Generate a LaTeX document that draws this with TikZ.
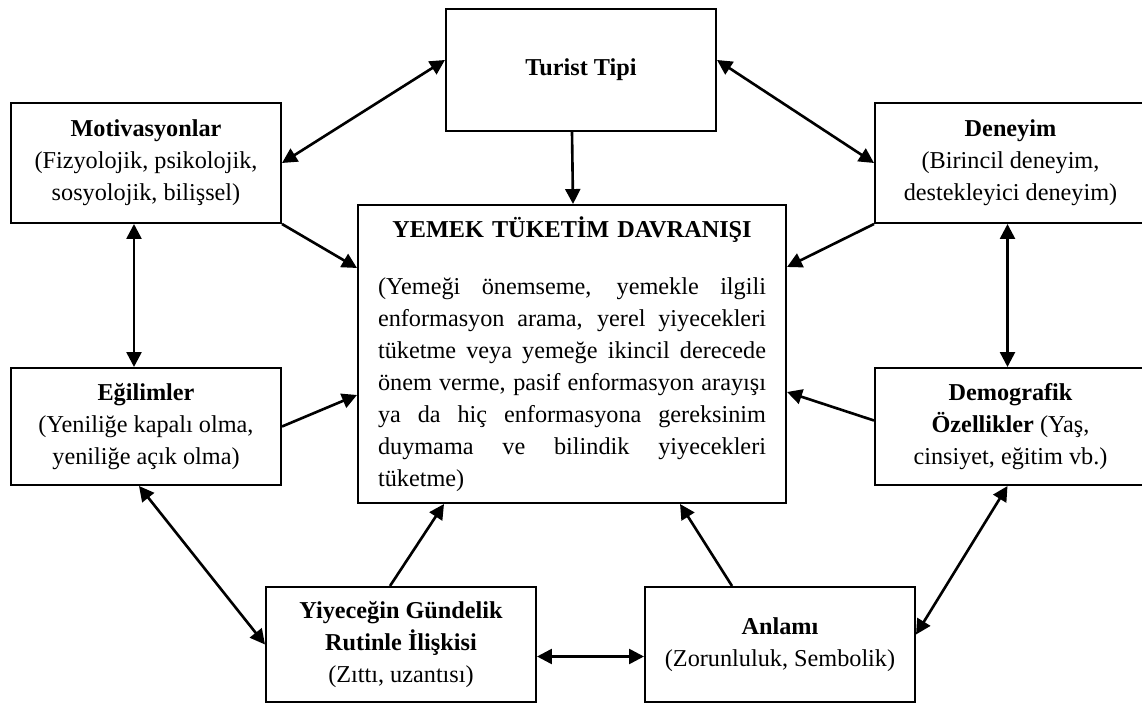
\documentclass[tikz,border=0pt]{standalone}
\usepackage{fontspec}
\setmainfont{Liberation Serif}
\usetikzlibrary{arrows.meta,positioning}
\newlength\px
\setlength\px{0.495pt}
\newlength\mainWidth
\setlength\mainWidth{388\px}
\tikzset{
  box-style/.style = {
    rectangle, draw, line width=1pt,
    align=center, inner sep=2pt,
    minimum width={270*\px},
    font=\fontsize{12}{15.84}\selectfont
  },
  main-style/.style = {
    align=left, text width=\mainWidth
  },
  every edge/.style = {draw, ->, line width=1.3pt},
  >={Triangle[length=7.4pt,width=7.4pt]}
}
\newcommand\fullLine[1]{\leavevmode\hbox to \mainWidth{\spaceskip=0.25em plus 1fil minus 0.05em\relax #1}}

\begin{document}
\begin{tikzpicture}[x=0.495pt, y=-0.495pt]
  \clip (0,0) rectangle (1142,704);

  % the boxes
  \node[box-style, minimum height={122*\px}] (turist) at (581,70)
    {\textbf{Turist Tipi}};
  \node[box-style, minimum height={120*\px}] (motiv) at (146,163)
    {\textbf{Motivasyonlar}\\(Fizyolojik, psikolojik,\\sosyolojik, bilişsel)};
  \node[box-style, minimum width={271*\px}, minimum height={120*\px}] (deneyim) at (1010.5,163)
    {\textbf{Deneyim}\\(Birincil deneyim,\\destekleyici deneyim)};
  \node[box-style, main-style, anchor=north west, minimum width={428*\px}, minimum height={298*\px}] (yemek) at (357,204)
    {\makebox[\mainWidth]{\textbf{YEMEK TÜKETİM DAVRANIŞI}}\\[12.4pt]
     \fullLine{(Yemeği önemseme, yemekle ilgili}\\
     \fullLine{enformasyon arama, yerel yiyecekleri}\\
     \fullLine{tüketme veya yemeğe ikincil derecede}\\
     \fullLine{önem verme, pasif enformasyon arayışı}\\
     \fullLine{ya da hiç enformasyona gereksinim}\\
     \fullLine{duymama ve bilindik yiyecekleri}\\
     tüketme)};
  \node[box-style, minimum height={117*\px}] (egilim) at (146,426.5)
    {\textbf{Eğilimler}\\(Yeniliğe kapalı olma,\\yeniliğe açık olma)};
  \node[box-style, minimum width={271*\px}, minimum height={117*\px}] (demog) at (1010.5,426.5)
    {\textbf{Demografik}\\\textbf{Özellikler} (Yaş,\\cinsiyet, eğitim vb.)};
  \node[box-style, minimum height={115*\px}] (yiyecek) at (401,644.5)
    {\textbf{Yiyeceğin Gündelik}\\\textbf{Rutinle İlişkisi}\\(Zıttı, uzantısı)};
  \node[box-style, minimum height={115*\px}] (anlam) at (780,644.5)
    {\textbf{Anlamı}\\(Zorunluluk, Sembolik)};

  % the links
  \path ([yshift=10*\px]turist.west) edge[<->] (motiv.east);
  \path ([yshift=10*\px]turist.east) edge[<->] (deneyim.west);
  \path ([xshift=-9*\px]turist.south) edge ([xshift=1*\px]yemek.north);
  \path (motiv.south east) edge ([yshift=-64*\px]yemek.north west);
  \path (deneyim.south west) edge ([yshift=-63*\px]yemek.north east);
  \path ([xshift=-12*\px]motiv.south) edge[<->] ([xshift=-12*\px]egilim.north);
  \path ([xshift=-3*\px]deneyim.south) edge[<->] ([xshift=-3*\px]demog.north);
  \path (egilim.east) edge ([yshift=-191*\px]yemek.north west);
  \path ([yshift=6*\px]demog.west) edge ([yshift=-188*\px]yemek.north east);
  \path ([xshift=-7*\px]egilim.south) edge[<->] (yiyecek.west);
  \path ([xshift=-11*\px]yiyecek.north) edge ([xshift=87*\px]yemek.south west);
  \path ([xshift=-48*\px]anlam.north) edge ([xshift=-107*\px]yemek.south east);
  \path ([xshift=-3*\px]demog.south) edge[<->] ([yshift=10*\px]anlam.east);
  \path ([yshift=-12*\px]yiyecek.east) edge[<->] ([yshift=-12*\px]anlam.west);
\end{tikzpicture}
\end{document}
